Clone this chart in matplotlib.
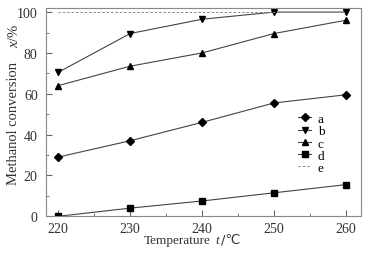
import matplotlib.pyplot as plt
from matplotlib.ticker import MultipleLocator

# data
temp = [220, 230, 240, 250, 260]
conv_a = [29, 37, 46, 55.5, 59.5]
conv_b = [70.5, 89.5, 96.5, 100, 100]
conv_c = [64, 73.5, 80, 89.5, 96]
conv_d = [0, 4, 7.5, 11.5, 15.5]
conv_e = [100, 100]
temp_e = [220, 260]

plt.rcParams['font.family'] = ['Liberation Serif', 'DejaVu Sans']
plt.rcParams['mathtext.fontset'] = 'custom'
plt.rcParams['mathtext.rm'] = 'Liberation Serif'
plt.rcParams['mathtext.it'] = 'Liberation Serif:italic'

W, H = 373, 255
fig = plt.figure(figsize=(W / 100, H / 100), dpi=100)
ax = fig.add_axes([46 / W, 1 - 217.3 / H, 315 / W, 208.3 / H])

lc = '#444444'
ax.plot(temp, conv_a, color=lc, lw=0.8, marker='D', ms=4, mfc='k', mec='k', label='a')
ax.plot(temp, conv_b, color=lc, lw=0.8, marker='v', ms=5, mfc='k', mec='k', label='b')
ax.plot(temp, conv_c, color=lc, lw=0.8, marker='^', ms=5, mfc='k', mec='k', label='c')
ax.plot(temp, conv_d, color=lc, lw=0.8, marker='s', ms=4, mfc='k', mec='k', label='d')
ax.plot(temp_e, conv_e, color='#888888', lw=0.7, ls=(0, (2.5, 2)), label='e')

ax.set_xlim(218.3, 262.1)
ax.set_ylim(0, 102)
ax.xaxis.set_major_locator(MultipleLocator(10))
ax.xaxis.set_minor_locator(MultipleLocator(5))
ax.yaxis.set_major_locator(MultipleLocator(20))
ax.yaxis.set_minor_locator(MultipleLocator(10))
ax.tick_params(which='both', direction='in', colors='#666666', labelcolor='#333333', labelsize=10)
ax.tick_params(which='major', length=4)
ax.tick_params(which='minor', length=2.5)
ax.tick_params(axis='y', pad=6)
ax.tick_params(axis='x', pad=4)
for s in ax.spines.values():
    s.set_color('#888888')
    s.set_linewidth(0.8)

# axis titles placed by hand, as in the reference
tc = '#333333'
fig.text(144 / W, 1 - 247 / H, 'Temperature', fontsize=9.5, color=tc, ha='left', va='bottom')
fig.text(215 / W, 1 - 247 / H, 't', fontsize=9.5, style='italic', color=tc, ha='left', va='bottom')
fig.text(221 / W, 1 - 247 / H, '/℃', fontsize=9.5, color=tc, ha='left', va='bottom',
         family=['DejaVu Sans'])
fig.text(14 / W, 1 - 185 / H, 'Methanol conversion', fontsize=10.5, color=tc,
         rotation=90, ha='center', va='bottom')
fig.text(14 / W, 1 - 24 / H, '$\\it{x}$/%', fontsize=10.5, color=tc,
         rotation=90, ha='center', va='top')

ax.legend(loc='center left', bbox_to_anchor=(0.783, 0.35), frameon=False, borderaxespad=0,
          handlelength=1.0, handletextpad=0.5, labelspacing=0.0, fontsize=9.5)

fig.savefig('out.png', dpi=100)
